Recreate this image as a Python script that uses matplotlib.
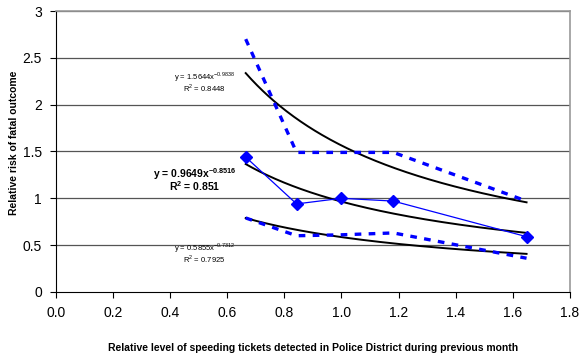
import numpy as np
import matplotlib
matplotlib.use('Agg')
import matplotlib.pyplot as plt

plt.rcParams['font.family'] = ['Liberation Sans', 'DejaVu Sans']
plt.rcParams['mathtext.fontset'] = 'custom'
plt.rcParams['mathtext.rm'] = 'Liberation Sans'
plt.rcParams['mathtext.bf'] = 'Liberation Sans:bold'

# --- Data ---
x_vals = [0.665, 0.843, 1.0, 1.182, 1.648]
risk = [1.44, 0.94, 1.00, 0.97, 0.59]
upper = [2.70, 1.49, 1.49, 1.49, 0.97]
lower = [0.79, 0.60, 0.61, 0.63, 0.36]

# power trendline coefficients from the labels: y = a * x^b, with R^2
fit_mid = (0.9649, -0.8516, 0.851)
fit_up = (1.5644, -0.9838, 0.8448)
fit_lo = (0.5855, -0.7312, 0.7925)

fig = plt.figure(figsize=(5.84, 3.56), dpi=100)
ax = fig.add_axes([0.0954, 0.18, 0.8806, 0.789])

# gridlines
for yv in np.arange(0.5, 3.01, 0.5):
    ax.axhline(yv, color='#555555', lw=0.9, zorder=0)

xs = np.linspace(min(x_vals), max(x_vals), 200)
for a, b, _ in (fit_mid, fit_up, fit_lo):
    ax.plot(xs, a * xs ** b, color='black', lw=1.4, zorder=2)

ax.plot(x_vals, upper, color='#0000ff', lw=2.4, dashes=(2.0, 2.2), zorder=3)
ax.plot(x_vals, lower, color='#0000ff', lw=2.4, dashes=(2.0, 2.2), zorder=3)
ax.plot(x_vals, risk, color='#0000ff', lw=0.9, marker='D', ms=6, zorder=4)


# trendline labels: equation and R^2 as one two-line text
def put_label(fit, x, y, size, spacing, bold=False):
    a, b, r2 = fit
    w = 'bold' if bold else 'normal'
    sup = r'$^{\mathbf{%s}}$' % b if bold else r'$^{%s}$' % b
    sq = r'$^{\mathbf{2}}$' if bold else r'$^{2}$'
    txt = 'y = %.4fx' % a + sup + '\n' + 'R' + sq + ' = %s' % r2
    ax.text(x, y, txt, fontsize=size, fontweight=w, ha='center', va='center',
            multialignment='center', linespacing=spacing)


put_label(fit_up, 0.52, 2.245, 5.5, 0.78)
put_label(fit_mid, 0.487, 1.20, 7.5, 0.8, bold=True)
put_label(fit_lo, 0.52, 0.415, 5.5, 0.78)

ax.set_xlim(0, 1.8)
ax.set_ylim(0, 3)
ax.set_xticks(np.arange(0, 1.81, 0.2))
ax.set_xticklabels(['%.1f' % v for v in np.arange(0, 1.81, 0.2)])
ax.set_yticks([0, 0.5, 1, 1.5, 2, 2.5, 3])
ax.set_yticklabels(['0', '0.5', '1', '1.5', '2', '2.5', '3'])
ax.tick_params(labelsize=10, length=4, width=0.8, direction='out', pad=6)

for side in ('top', 'right'):
    ax.spines[side].set_color('#999999')
    ax.spines[side].set_linewidth(1.2)
ax.spines['left'].set_color('black')
ax.spines['bottom'].set_color('black')

ax.set_xlabel('Relative level of speeding tickets detected in Police District during previous month',
              fontsize=7.5, fontweight='bold', labelpad=17)
ax.set_ylabel('Relative risk of fatal outcome', fontsize=7.5, fontweight='bold')
ax.yaxis.set_label_coords(-0.072, 0.53)

fig.savefig('out.png', dpi=100)
